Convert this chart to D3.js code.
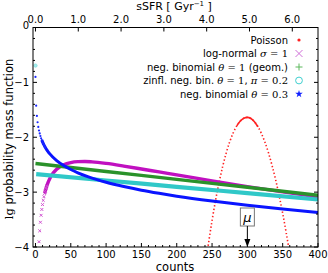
<!DOCTYPE html>
<html><head><meta charset="utf-8">
<script src="https://cdn.jsdelivr.net/npm/d3@7"></script>
<style>
html,body{margin:0;padding:0;background:#fff;}
svg{display:block;}
text{font-family:"DejaVu Sans",sans-serif;}
</style></head>
<body>
<svg id="c" width="328" height="273"></svg>
<script>
// ---- data ----
const poissonK  = [243,245,250,255,260,265,270,275,280,285,290,295,300,305,310,315,320,325,330,335,340,345,350,355,358,360];
const poissonLg = [-4.109,-3.932,-3.518,-3.148,-2.820,-2.534,-2.289,-2.084,-1.919,-1.792,-1.703,-1.652,-1.638,-1.659,-1.716,-1.809,-1.935,-2.095,-2.289,-2.516,-2.774,-3.066,-3.388,-3.742,-3.968,-4.125];

const lognormK  = [5,6,7,8,9,10,11,12,13,14,15,16,18,20,25,30,40,50,60,70,80,100,125,150,175,200,250,300,350,400];
const lognormLg = [-3.904,-3.705,-3.549,-3.422,-3.316,-3.227,-3.150,-3.084,-3.025,-2.974,-2.928,-2.887,-2.817,-2.759,-2.653,-2.582,-2.500,-2.461,-2.445,-2.442,-2.449,-2.477,-2.525,-2.578,-2.632,-2.685,-2.795,-2.900,-2.996,-3.086];

const geomK  = [0,100,200,300,400];
const geomLg = [-2.479,-2.623,-2.768,-2.912,-3.057];

const zinflK  = [0,1,100,200,300,400];
const zinflLg = [-0.694,-2.673,-2.788,-2.903,-3.019,-3.135];

const nb03K  = [0,1,2,3,4,5,6,7,8,9,10,11,12,13,14,15,16,17,18,19,20,30,40,50,60,75,100,125,150,175,200,250,300,350,400];
const nb03Lg = [-0.900,-1.424,-1.611,-1.727,-1.811,-1.877,-1.931,-1.977,-2.018,-2.053,-2.085,-2.114,-2.140,-2.165,-2.188,-2.209,-2.229,-2.247,-2.265,-2.282,-2.298,-2.425,-2.516,-2.588,-2.648,-2.722,-2.820,-2.898,-2.965,-3.022,-3.074,-3.163,-3.240,-3.309,-3.371];

const xTicks = [0,50,100,150,200,250,300,350,400];
const yTicks = [-4,-3,-2,-1,0];
const topTicks = [0,1,2,3,4,5,6];
const countsPerSSFR = 60.6;
const meanCount = 300;

// ---- layout ----
const L=33, R=318, T=27.5, B=247;
const svg = d3.select("#c");
const x = d3.scaleLinear().domain([-3.5,400]).range([L,R]);
const y = d3.scaleLinear().domain([-4,0]).range([B,T]);
const xTop = d3.scaleLinear().domain([-3.5/countsPerSSFR, 400/countsPerSSFR]).range([L,R]);

svg.append("defs").append("clipPath").attr("id","clip")
  .append("rect").attr("x",L).attr("y",T).attr("width",R-L).attr("height",B-T);

const g = svg.append("g").attr("clip-path","url(#clip)");
const zip = (ks, vs) => ks.map((k,i)=>({k, v:vs[i]}));
const line = d3.line().x(d=>x(d.k)).y(d=>y(d.v)).curve(d3.curveMonotoneX);

// Poisson: red dots
const pois = zip(poissonK, poissonLg);
g.append("path").datum(pois).attr("d",line).attr("fill","none")
  .attr("stroke","#ff2020").attr("stroke-width",1.6).attr("stroke-dasharray","1.4,2.2");
g.append("path").datum(pois.filter(d=>d.k>=285&&d.k<=318)).attr("d",line).attr("fill","none")
  .attr("stroke","#ff2020").attr("stroke-width",1.6);

// log-normal: magenta x
const ln = zip(lognormK, lognormLg);
g.append("path").datum(ln.filter(d=>d.k>=13)).attr("d",line).attr("fill","none")
  .attr("stroke","#c010c0").attr("stroke-width",3.4);
ln.filter(d=>d.k<=16).forEach(d=>{
  const cx=x(d.k), cy=y(d.v), s=1.4;
  g.append("path").attr("d",`M${cx-s},${cy-s}L${cx+s},${cy+s}M${cx-s},${cy+s}L${cx+s},${cy-s}`)
   .attr("stroke","#d050d0").attr("stroke-width",1);
});

// geometric: green +
g.append("path").datum(zip(geomK, geomLg)).attr("d",line).attr("fill","none")
  .attr("stroke","#2a922a").attr("stroke-width",3.4);

// zero-inflated: cyan circles
const zi = zip(zinflK, zinflLg);
g.append("path").datum(zi.filter(d=>d.k>=1)).attr("d",line).attr("fill","none")
  .attr("stroke","#30c8c8").attr("stroke-width",4.2);
g.append("circle").attr("cx",x(zi[0].k)).attr("cy",y(zi[0].v)).attr("r",1.7)
  .attr("fill","#a8ecec").attr("stroke","#70dcdc").attr("stroke-width",0.6);

// neg binomial 0.3: blue stars
const nb = zip(nb03K, nb03Lg);
g.append("path").datum(nb.filter(d=>d.k>=9)).attr("d",line).attr("fill","none")
  .attr("stroke","#0a14ff").attr("stroke-width",3.0);
nb.filter(d=>d.k<=14).forEach(d=>{
  g.append("circle").attr("cx",x(d.k)).attr("cy",y(d.v)).attr("r",1.1).attr("fill","#1a28ff");
});

// ---- frame & ticks ----
const ax = svg.append("g").attr("stroke","#000").attr("stroke-width",1);
ax.append("rect").attr("x",L).attr("y",T).attr("width",R-L).attr("height",B-T).attr("fill","none");
const minorX = d3.range(0,401,10).filter(v=>v%50!==0);
xTicks.forEach(v=>{ ax.append("line").attr("x1",x(v)).attr("x2",x(v)).attr("y1",B).attr("y2",B-4); });
minorX.forEach(v=>{ ax.append("line").attr("x1",x(v)).attr("x2",x(v)).attr("y1",B).attr("y2",B-2); });
topTicks.forEach(v=>{ ax.append("line").attr("x1",xTop(v)).attr("x2",xTop(v)).attr("y1",T).attr("y2",T+4); });
const minorY = d3.range(-40,1,2).map(v=>v/10).filter(v=>Math.abs(v-Math.round(v))>1e-6);
yTicks.forEach(v=>{
  ax.append("line").attr("x1",L).attr("x2",L+4).attr("y1",y(v)).attr("y2",y(v));
  ax.append("line").attr("x1",R).attr("x2",R-4).attr("y1",y(v)).attr("y2",y(v));
});
minorY.forEach(v=>{
  ax.append("line").attr("x1",L).attr("x2",L+2).attr("y1",y(v)).attr("y2",y(v));
  ax.append("line").attr("x1",R).attr("x2",R-2).attr("y1",y(v)).attr("y2",y(v));
});

// tick labels
const fs=10;
xTicks.forEach(v=>svg.append("text").attr("x",x(v)).attr("y",258).attr("text-anchor","middle")
  .attr("font-size",fs).text(v));
topTicks.forEach(v=>svg.append("text").attr("x",xTop(v)).attr("y",22.5).attr("text-anchor","middle")
  .attr("font-size",fs).text(v.toFixed(1)));
yTicks.forEach(v=>svg.append("text").attr("x",29).attr("y",v===0?25.5:y(v)).attr("dy","0.35em").attr("text-anchor","end")
  .attr("font-size",fs).text(v===0?"0":"\u2212"+Math.abs(v)));

// axis labels
svg.append("text").attr("x",175).attr("y",271).attr("text-anchor","middle").attr("font-size",11.5).text("counts");
const tl = svg.append("text").attr("x",174).attr("y",10).attr("text-anchor","middle").attr("font-size",11);
tl.append("tspan").text("sSFR [ Gyr");
tl.append("tspan").attr("font-size",7).attr("dy",-4).text("\u22121");
tl.append("tspan").attr("dy",4).text(" ]");
const yl = svg.append("text").attr("transform","translate(13,139) rotate(-90)").attr("text-anchor","middle").attr("font-size",11.5);
yl.append("tspan").attr("font-family","DejaVu Serif").text("lg");
yl.append("tspan").text(" probability mass function");

// ---- legend ----
const serif="DejaVu Serif";
const legend = [
  {parts:[["Poisson",0]], sym:"dot"},
  {parts:[["log-normal ",0],["\u03c3",2],[" = 1",1]], sym:"x"},
  {parts:[["neg. binomial ",0],["\u03b8",2],[" = 1",1],[" (geom.)",0]], sym:"plus"},
  {parts:[["zinfl. neg. bin. ",0],["\u03b8",2],[" = 1",1],[", ",0],["\u03c0",2],[" = 0.2",1]], sym:"circ"},
  {parts:[["neg. binomial ",0],["\u03b8",2],[" = 0.3",1]], sym:"star"}
];
const lg = svg.append("g");
legend.forEach((e,i)=>{
  const yy = 40 + i*13.5;
  const t = lg.append("text").attr("x",288).attr("y",yy).attr("dy","0.35em").attr("text-anchor","end").attr("font-size",10);
  e.parts.forEach(([s,m])=>{
    const sp=t.append("tspan").text(s);
    if(m>0) sp.attr("font-family",serif);
    if(m===2) sp.attr("font-style","italic");
  });
  const mx=299;
  if(e.sym==="dot") lg.append("circle").attr("cx",mx).attr("cy",yy).attr("r",1.6).attr("fill","#ff2020");
  if(e.sym==="x") lg.append("path").attr("d",`M${mx-3.5},${yy-3.5}L${mx+3.5},${yy+3.5}M${mx-3.5},${yy+3.5}L${mx+3.5},${yy-3.5}`).attr("stroke","#d070d8").attr("stroke-width",1);
  if(e.sym==="plus") lg.append("path").attr("d",`M${mx-3.5},${yy}L${mx+3.5},${yy}M${mx},${yy-3.5}L${mx},${yy+3.5}`).attr("stroke","#5cb85c").attr("stroke-width",1);
  if(e.sym==="circ") lg.append("circle").attr("cx",mx).attr("cy",yy).attr("r",3.4).attr("fill","none").attr("stroke","#40d0d0").attr("stroke-width",1);
  if(e.sym==="star") lg.append("path").attr("transform",`translate(${mx},${yy})`).attr("d",d3.symbol(d3.symbolStar,18)()).attr("fill","#1020ff");
});

// ---- mean annotation ----
const mxp = x(meanCount);
svg.append("rect").attr("x",mxp-7).attr("y",208).attr("width",14).attr("height",18).attr("fill","#fff").attr("stroke","#777").attr("stroke-width",1);
svg.append("text").attr("x",mxp).attr("y",217).attr("dy","0.35em").attr("text-anchor","middle")
  .attr("font-family",serif).attr("font-style","italic").attr("font-size",13).text("\u03bc");
svg.append("line").attr("x1",mxp).attr("x2",mxp).attr("y1",226).attr("y2",240).attr("stroke","#000").attr("stroke-width",1);
svg.append("path").attr("d",`M${mxp-3},${239}L${mxp+3},${239}L${mxp},${B}Z`).attr("fill","#000");
</script>
</body></html>
